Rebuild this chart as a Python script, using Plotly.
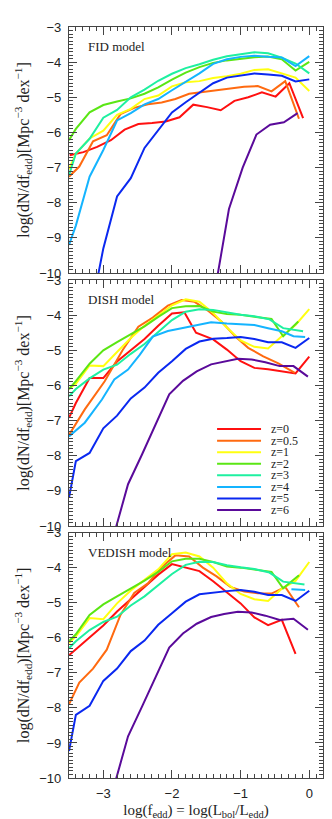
import plotly.graph_objects as go
from plotly.subplots import make_subplots

# redshift labels, line colours and panel names
REDSHIFTS = ["z=0", "z=0.5", "z=1", "z=2", "z=3", "z=4", "z=5", "z=6"]
COLORS = ["#ff1010", "#ff6a10", "#ffff10", "#5ae614", "#1ef0a0", "#14b4ff", "#0a28f0", "#5a0a9a"]
MODELS = ["FID model", "DISH model", "VEDISH model"]

# common log(f_edd) grid used by many of the curves
GRID = [-3.5, -3.4, -3.2, -3.0, -2.8, -2.6, -2.4, -2.2, -2.0, -1.8, -1.6, -1.4, -1.2, -1.0, -0.8, -0.6, -0.4, -0.2, 0.0]

# ---- FID model ----
FID_X_Z0 = [-3.49, -3.29, -3.09, -2.89, -2.69, -2.49, -2.29, -2.09, -1.89, -1.69, -1.49, -1.29, -1.09, -0.89, -0.69, -0.49, -0.29, -0.09]
FID_Y_Z0 = [-6.65, -6.56, -6.41, -6.22, -5.92, -5.76, -5.73, -5.69, -5.57, -5.21, -5.28, -5.37, -5.10, -5.00, -4.86, -4.98, -4.60, -5.59]
FID_X_Z05 = [-3.5, -3.35, -3.15, -2.95, -2.75, -2.55, -2.35, -2.15, -1.95, -1.75, -1.55, -1.35, -1.15, -0.95, -0.75, -0.55, -0.35, -0.15]
FID_Y_Z05 = [-7.26, -6.97, -6.25, -6.08, -5.48, -5.3, -5.2, -5.15, -5.05, -4.9, -4.85, -4.8, -4.76, -4.7, -4.68, -4.83, -4.54, -5.61]
FID_X_Z1 = GRID
FID_Y_Z1 = [-7.05, -6.6, -6.17, -5.95, -5.5, -5.33, -5.05, -4.95, -4.69, -4.57, -4.54, -4.45, -4.4, -4.33, -4.22, -4.2, -4.32, -4.44, -4.82]
FID_X_Z2 = GRID
FID_Y_Z2 = [-6.22, -5.9, -5.43, -5.22, -5.12, -5.03, -4.9, -4.72, -4.5, -4.3, -4.14, -4.02, -3.95, -3.9, -3.86, -3.84, -3.92, -4.24, -3.99]
FID_X_Z3 = GRID
FID_Y_Z3 = [-7.22, -6.6, -6.18, -5.58, -5.36, -5.0, -4.78, -4.53, -4.33, -4.17, -4.06, -3.93, -3.83, -3.77, -3.72, -3.75, -3.87, -4.04, -4.32]
FID_X_Z4 = GRID
FID_Y_Z4 = [-9.2, -8.65, -7.26, -6.5, -5.66, -5.45, -5.2, -5.05, -4.8, -4.56, -4.32, -4.05, -3.92, -3.85, -3.82, -3.85, -3.87, -4.11, -3.83]
FID_X_Z5 = [-3.2, -3.0, -2.8, -2.6, -2.4, -2.2, -2.0, -1.8, -1.6, -1.4, -1.2, -1.0, -0.8, -0.6, -0.4, -0.2, 0.0]
FID_Y_Z5 = [-11.3, -9.3, -7.82, -7.3, -6.44, -5.95, -5.43, -5.14, -4.86, -4.6, -4.44, -4.39, -4.32, -4.35, -4.39, -4.55, -4.49]
FID_X_Z6 = [-1.37, -1.17, -0.97, -0.77, -0.57, -0.37, -0.17]
FID_Y_Z6 = [-10.45, -8.18, -7.0, -6.06, -5.78, -5.71, -5.45]

# ---- DISH model ----
DISH_X_Z0 = [-3.5, -3.4, -3.2, -3.0, -2.8, -2.6, -2.4, -2.2, -2.0, -1.82, -1.65, -1.4, -1.2, -1.0, -0.8, -0.6, -0.4, -0.2, 0.0]
DISH_Y_Z0 = [-6.92, -6.5, -5.79, -5.79, -5.32, -5.0, -4.68, -4.3, -3.95, -3.92, -4.5, -4.69, -4.98, -5.31, -5.5, -5.54, -5.59, -5.66, -5.18]
DISH_X_Z05 = [-3.5, -3.27, -2.98, -2.72, -2.49, -2.28, -2.06, -1.86, -1.67, -1.47, -1.28, -1.08, -0.89, -0.67, -0.45, -0.21]
DISH_Y_Z05 = [-7.41, -6.68, -5.88, -5.0, -4.33, -4.07, -3.73, -3.57, -3.62, -3.88, -4.18, -4.6, -4.93, -5.17, -5.37, -5.64]
DISH_X_Z1 = GRID
DISH_Y_Z1 = [-6.1, -5.95, -5.43, -5.45, -5.05, -4.65, -4.3, -4.0, -3.72, -3.55, -3.62, -3.94, -4.35, -4.72, -4.9, -4.95, -4.6, -4.28, -3.83]
DISH_X_Z2 = [-3.5, -3.4, -3.2, -3.0, -2.8, -2.6, -2.4, -2.2, -2.0, -1.8, -1.6, -1.4, -1.2, -1.0, -0.8, -0.55, -0.38, -0.16]
DISH_Y_Z2 = [-6.1, -5.88, -5.38, -5.0, -4.77, -4.54, -4.32, -4.05, -3.8, -3.75, -3.74, -3.9, -3.97, -3.99, -4.05, -4.11, -4.6, -4.18]
DISH_X_Z3 = [-3.5, -3.4, -3.2, -3.0, -2.8, -2.6, -2.4, -2.2, -2.0, -1.8, -1.6, -1.4, -1.2, -1.0, -0.8, -0.58, -0.38, -0.09]
DISH_Y_Z3 = [-6.31, -6.1, -5.8, -5.55, -5.41, -5.1, -4.82, -4.47, -4.14, -3.9, -3.83, -3.85, -3.93, -3.99, -4.03, -4.12, -4.37, -4.46]
DISH_X_Z4 = [-3.5, -3.27, -3.02, -2.84, -2.64, -2.47, -2.28, -2.06, -1.86, -1.67, -1.43, -1.2, -1.0, -0.8, -0.6, -0.4, -0.23, -0.06]
DISH_Y_Z4 = [-7.45, -7.06, -6.4, -5.83, -5.55, -5.13, -4.61, -4.45, -4.37, -4.29, -4.2, -4.24, -4.26, -4.28, -4.37, -4.46, -4.6, -4.62]
DISH_X_Z5 = GRID
DISH_Y_Z5 = [-9.2, -8.15, -7.92, -7.22, -6.86, -6.37, -6.06, -5.64, -5.31, -4.96, -4.75, -4.67, -4.65, -4.62, -4.68, -4.77, -4.77, -4.93, -4.65]
DISH_X_Z6 = [-2.85, -2.64, -2.44, -2.24, -2.04, -1.84, -1.64, -1.43, -1.24, -1.04, -0.84, -0.64, -0.43, -0.23, -0.02]
DISH_Y_Z6 = [-10.28, -8.81, -7.98, -7.12, -6.25, -5.87, -5.6, -5.4, -5.32, -5.24, -5.26, -5.34, -5.45, -5.45, -5.75]

# ---- VEDISH model ----
VED_X_Z0 = [-3.5, -3.4, -3.2, -3.0, -2.8, -2.6, -2.4, -2.2, -2.0, -1.8, -1.6, -1.4, -1.2, -1.0, -0.8, -0.6, -0.4, -0.2]
VED_Y_Z0 = [-6.5, -6.33, -6.0, -5.65, -5.25, -4.9, -4.55, -4.2, -3.9, -4.0, -4.1, -4.39, -4.7, -5.02, -5.42, -5.64, -5.49, -6.46]
VED_X_Z05 = [-3.5, -3.35, -3.15, -2.95, -2.75, -2.55, -2.35, -2.15, -1.95, -1.75, -1.55, -1.35, -1.15, -0.95, -0.75, -0.55, -0.35, -0.15]
VED_Y_Z05 = [-7.9, -7.28, -6.88, -6.34, -5.35, -4.72, -4.45, -3.98, -3.65, -3.68, -4.0, -4.25, -4.55, -4.68, -4.73, -4.74, -4.55, -5.13]
VED_X_Z1 = GRID
VED_Y_Z1 = [-6.15, -5.96, -5.44, -5.47, -5.02, -4.65, -4.35, -4.05, -3.62, -3.57, -3.68, -4.0, -4.45, -4.75, -4.9, -4.95, -4.6, -4.38, -3.84]
VED_X_Z2 = [-3.5, -3.4, -3.2, -3.0, -2.8, -2.6, -2.4, -2.2, -2.0, -1.8, -1.6, -1.4, -1.2, -1.0, -0.8, -0.55, -0.38, -0.15]
VED_Y_Z2 = [-6.1, -5.9, -5.35, -5.05, -4.82, -4.6, -4.37, -4.12, -3.82, -3.75, -3.75, -3.84, -3.97, -4.0, -4.06, -4.12, -4.59, -4.22]
VED_X_Z3 = [-3.5, -3.4, -3.2, -3.0, -2.8, -2.6, -2.4, -2.2, -2.0, -1.8, -1.6, -1.4, -1.2, -1.0, -0.8, -0.58, -0.38, -0.07]
VED_Y_Z3 = [-6.3, -6.1, -5.78, -5.55, -5.4, -5.08, -4.82, -4.5, -4.18, -3.92, -3.83, -3.84, -3.93, -3.99, -4.04, -4.14, -4.4, -4.48]
VED_X_Z4 = [-0.26, -0.06]
VED_Y_Z4 = [-4.62, -4.64]
VED_X_Z5 = GRID
VED_Y_Z5 = [-9.23, -8.2, -7.94, -7.23, -6.88, -6.38, -6.08, -5.63, -5.3, -4.97, -4.76, -4.71, -4.67, -4.64, -4.69, -4.78, -4.78, -4.95, -4.66]
VED_X_Z6 = [-2.85, -2.64, -2.44, -2.24, -2.04, -1.84, -1.64, -1.43, -1.24, -1.04, -0.84, -0.64, -0.43, -0.23, -0.02]
VED_Y_Z6 = [-10.28, -8.81, -7.98, -7.12, -6.28, -5.88, -5.6, -5.41, -5.32, -5.26, -5.28, -5.37, -5.49, -5.46, -5.77]

panels = [
    [(FID_X_Z0, FID_Y_Z0), (FID_X_Z05, FID_Y_Z05), (FID_X_Z1, FID_Y_Z1), (FID_X_Z2, FID_Y_Z2),
     (FID_X_Z3, FID_Y_Z3), (FID_X_Z4, FID_Y_Z4), (FID_X_Z5, FID_Y_Z5), (FID_X_Z6, FID_Y_Z6)],
    [(DISH_X_Z0, DISH_Y_Z0), (DISH_X_Z05, DISH_Y_Z05), (DISH_X_Z1, DISH_Y_Z1), (DISH_X_Z2, DISH_Y_Z2),
     (DISH_X_Z3, DISH_Y_Z3), (DISH_X_Z4, DISH_Y_Z4), (DISH_X_Z5, DISH_Y_Z5), (DISH_X_Z6, DISH_Y_Z6)],
    [(VED_X_Z0, VED_Y_Z0), (VED_X_Z05, VED_Y_Z05), (VED_X_Z1, VED_Y_Z1), (VED_X_Z2, VED_Y_Z2),
     (VED_X_Z3, VED_Y_Z3), (VED_X_Z4, VED_Y_Z4), (VED_X_Z5, VED_Y_Z5), (VED_X_Z6, VED_Y_Z6)],
]

fig = make_subplots(rows=3, cols=1, shared_xaxes=True, vertical_spacing=0.01)

for row, curves in enumerate(panels, start=1):
    for (xs, ys), color, label in zip(curves, COLORS, REDSHIFTS):
        fig.add_trace(go.Scatter(x=xs, y=ys, mode="lines", name=label,
                                 line=dict(color=color, width=2), showlegend=False),
                      row=row, col=1)

serif = "Liberation Serif"
axis_common = dict(
    showline=True, linecolor="#444", linewidth=1.2, mirror="allticks",
    ticks="inside", ticklen=8, tickwidth=1, tickcolor="#444",
    showgrid=False, zeroline=False,
    minor=dict(ticks="inside", ticklen=4, tickwidth=1, tickcolor="#444", dtick=0.1),
    tickfont=dict(family="Liberation Sans", size=13, color="#222"),
)

ytitle = "log(dN/df<sub>edd</sub>)[Mpc<sup>−3</sup> dex<sup>−1</sup>]"
domains = [[0.6724, 1.0], [0.3355, 0.6631], [0.0, 0.3268]]
for i in range(3):
    fig.update_yaxes(axis_common, row=i + 1, col=1, range=[-10, -3], dtick=1, tick0=0,
                     domain=domains[i], ticklabelstandoff=4,
                     title=dict(text=ytitle, font=dict(family=serif, size=16, color="#222"), standoff=5))
    fig.update_xaxes(axis_common, row=i + 1, col=1, range=[-3.5, 0.2], dtick=1, tick0=0)
fig.update_xaxes(row=3, col=1, ticklabelstandoff=3,
                 title=dict(text="log(f<sub>edd</sub>) = log(L<sub>bol</sub>/L<sub>edd</sub>)",
                            font=dict(family=serif, size=15, color="#222"), standoff=4))

# model names in each panel
for i, name in enumerate(MODELS):
    ax = "" if i == 0 else str(i + 1)
    fig.add_annotation(text=name, xref="x%s domain" % ax, yref="y%s domain" % ax,
                       x=0.067, y=0.92, xanchor="left", yanchor="middle", showarrow=False,
                       font=dict(family=serif, size=13, color="#222"))

# legend drawn inside the middle panel
for k, (color, label) in enumerate(zip(COLORS, REDSHIFTS)):
    yy = 0.394 - 0.047 * k
    fig.add_shape(type="line", xref="x2 domain", yref="y2 domain", x0=0.583, x1=0.756, y0=yy, y1=yy,
                  line=dict(color=color, width=2))
    fig.add_annotation(text=label, xref="x2 domain", yref="y2 domain", x=0.786, y=yy,
                       xanchor="left", yanchor="middle", showarrow=False,
                       font=dict(family=serif, size=12, color="#222"))

fig.update_layout(width=332, height=819, margin=dict(l=61, r=17, t=13, b=49),
                  plot_bgcolor="white", paper_bgcolor="white", showlegend=False)

fig.write_html("out.html")
